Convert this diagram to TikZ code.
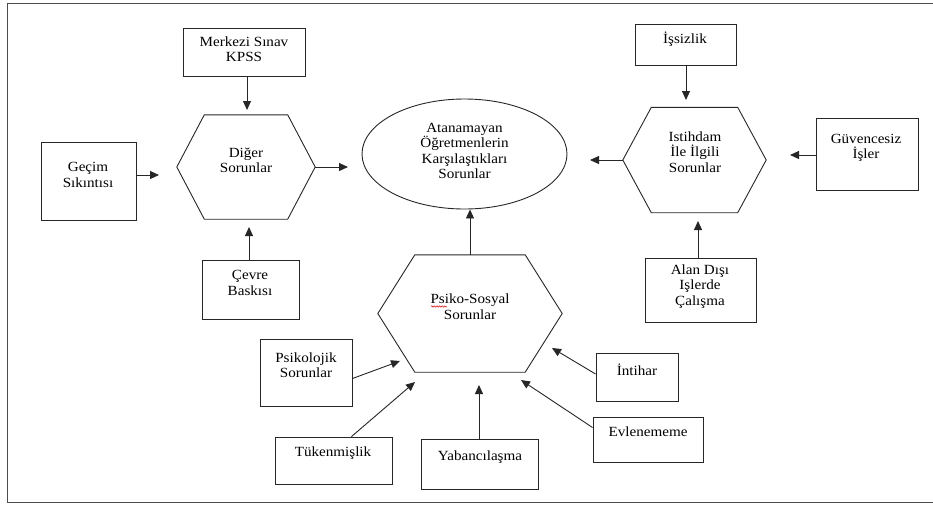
\documentclass[tikz,border=0pt]{standalone}
\usepackage{fontspec}
\setmainfont[FakeStretch=1.08]{Liberation Serif}
\usetikzlibrary{arrows.meta,calc,shapes.geometric,decorations.pathmorphing}

\tikzset{
  box/.style={draw=black!85, line width=0.9pt, rectangle, inner sep=0pt},
  line/.style={draw=black!85, line width=0.9pt},
  txt/.style={align=center, inner sep=0pt, font=\fontsize{14}{15.5}\selectfont, text=black},
  arr/.style={draw=black!85, line width=0.9pt, -{Triangle[length=9pt,width=8pt]}},
  hexa/.style={draw=none, rectangle, inner sep=0pt},
  frame/.style={draw=black!70, line width=1pt},
}

\newcommand\mkbox[5]{\node[box, minimum width={(#4)-(#2)}, minimum height={(#5)-(#3)}] (#1) at ({((#2)+(#4))/2},{((#3)+(#5))/2}) {};}
\newcommand\mkhex[6]{\node[hexa, minimum width={2*(#4)}, minimum height={2*(#5)}] (#1) at (#2,#3) {};
  \draw[line] ([xshift=#6pt]#1.north west) -- ([xshift=-#6pt]#1.north east) -- (#1.east) -- ([xshift=-#6pt]#1.south east) -- ([xshift=#6pt]#1.south west) -- (#1.west) -- cycle;}

\begin{document}
\begin{tikzpicture}[x=1pt,y=-1pt]
\useasboundingbox (0,0) rectangle (933,504);
\draw[frame] (933,3) -- (7.5,3) -- (7.5,502.5) -- (933,502.5);

% boxes
\mkbox{kpss}{183}{28}{305}{76}
\mkbox{gecim}{41}{142}{136}{220}
\mkbox{cevre}{202}{260}{299}{319}
\mkbox{psikolojik}{260}{339}{352}{406}
\mkbox{tuken}{275}{437}{392}{484}
\mkbox{yaban}{421}{439}{538}{489}
\mkbox{intihar}{596}{353}{678}{401}
\mkbox{evlen}{593}{417}{703}{462}
\mkbox{alan}{645}{258}{756}{322}
\mkbox{issiz}{635}{24}{736}{65}
\mkbox{guven}{816}{118}{918}{190}

% hexagons
\mkhex{diger}{246}{167}{69}{52}{27.5}
\mkhex{istihdam}{694.5}{160}{71.5}{52.5}{28.5}
\mkhex{psiko}{470}{313.5}{92}{58.5}{37}

% ellipse
\node[draw=black!85, line width=0.9pt, ellipse, inner sep=0pt, minimum width=205pt, minimum height=110pt] (ell) at (464.5,154) {};

% texts
\node[txt] (kpss-t) at (244,49) {Merkezi Sınav\\KPSS};
\node[txt] (gecim-t) at (88,175) {Geçim\\Sıkıntısı};
\node[txt] (cevre-t) at (250,283) {Çevre\\Baskısı};
\node[txt] (psikolojik-t) at (306,365) {Psikolojik\\Sorunlar};
\node[txt] (tuken-t) at (333,453) {Tükenmişlik};
\node[txt] (yaban-t) at (480,457) {Yabancılaşma};
\node[txt] (intihar-t) at (637,370) {İntihar};
\node[txt] (evlen-t) at (648,432) {Evlenememe};
\node[txt] (alan-t) at (700,286.5) {Alan Dışı\\Işlerde\\Çalışma};
\node[txt] (issiz-t) at (685,39) {İşsizlik};
\node[txt] (guven-t) at (866,148) {Güvencesiz\\İşler};
\node[txt] (diger-t) at (246,160.5) {Diğer\\Sorunlar};
\node[txt] (istihdam-t) at (695,152) {Istihdam\\İle İlgili\\Sorunlar};
\node[txt] (psiko-t) at (470,306.5) {Psiko-Sosyal\\Sorunlar};
\node[txt] (ell-t) at (464.5,151) {Atanamayan\\Öğretmenlerin\\Karşılaştıkları\\Sorunlar};

% spell-check squiggle
\draw[red!85!black, line width=0.5pt, decorate, decoration={snake, amplitude=0.7pt, segment length=2.6pt}] (431,306.5) -- (447,306.5);

% arrow tips
\coordinate (t1) at (247,110);
\coordinate (t2) at (159,175);
\coordinate (t3) at (348,167);
\coordinate (t4) at (249,227);
\coordinate (t5) at (590,160);
\coordinate (t6) at (686,100);
\coordinate (t7) at (790,155);
\coordinate (t8) at (698,221);
\coordinate (t10) at (400,361);
\coordinate (t11) at (415,382);
\coordinate (t12) at (479,385);
\coordinate (t13) at (552,348);
\coordinate (t14) at (521,380);

% connectors
\draw[arr] (t1 |- kpss.south) -- (t1);
\draw[arr] (t2 -| gecim.east) -- (t2);
\draw[arr] (diger.east) -- (t3);
\draw[arr] (t4 |- cevre.north) -- (t4);
\draw[arr] (istihdam.west) -- (t5);
\draw[arr] (t6 |- issiz.south) -- (t6);
\draw[arr] (t7 -| guven.west) -- (t7);
\draw[arr] (t8 |- alan.north) -- (t8);
\draw[arr] (psiko.north) -- (psiko.north |- ell.south);
\draw[arr] ([yshift=-6pt]psikolojik.east) -- (t10);
\draw[arr] ([xshift=18pt]tuken.north) -- (t11);
\draw[arr] (t12 |- yaban.north) -- (t12);
\draw[arr] ([yshift=3pt]intihar.west) -- (t13);
\draw[arr] ([yshift=12pt]evlen.west) -- (t14);
\end{tikzpicture}
\end{document}
